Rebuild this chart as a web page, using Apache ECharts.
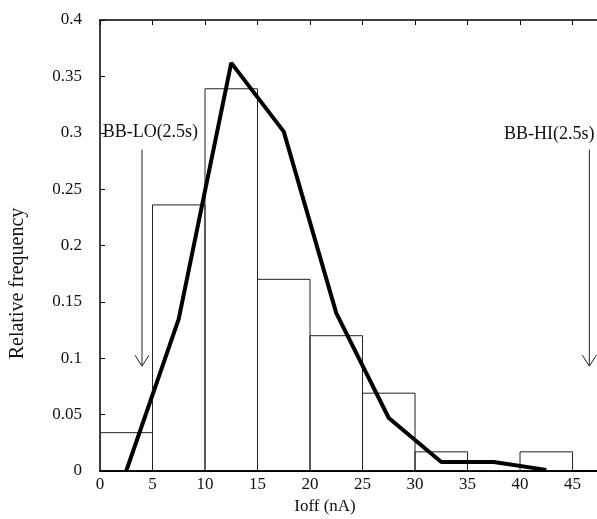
<!DOCTYPE html>
<html>
<head>
<meta charset="utf-8">
<script src="https://cdn.jsdelivr.net/npm/echarts@6/dist/echarts.min.js"></script>
<style>html,body{margin:0;padding:0;background:#fff;}#c{width:597px;height:519px;}</style>
</head>
<body>
<div id="c"></div>
<script>
// Histogram bins
var binStart = [0, 5, 10, 15, 20, 25, 30, 35, 40];
var binEnd   = [5, 10, 15, 20, 25, 30, 35, 40, 45];
var binFreq  = [0.034, 0.236, 0.339, 0.170, 0.120, 0.069, 0.017, 0, 0.017];
// Fitted curve (bin midpoints)
var curveX = [2.5, 7.5, 12.5, 17.5, 22.5, 27.5, 32.5, 37.5, 42.5];
var curveY = [0, 0.135, 0.362, 0.301, 0.140, 0.047, 0.008, 0.008, 0.001];
// Limit markers
var markerNames = ['BB-LO(2.5s)', 'BB-HI(2.5s)'];
var markerX     = [4.0, 46.6];
var markerTop   = [0.285, 0.285];
var markerTip   = [0.093, 0.093];
var markerLabelX = [0.25, 47.1];
var markerLabelY = [0.300, 0.299];
// Axis ticks
var yTicks = [0, 0.05, 0.1, 0.15, 0.2, 0.25, 0.3, 0.35, 0.4];

var FONT = 'Liberation Serif';
var chart = echarts.init(document.getElementById('c'));

var barData = binStart.map(function (s, i) { return [s, binEnd[i], binFreq[i]]; });
var lineData = curveX.map(function (x, i) { return [x, curveY[i]]; });
var markerData = markerNames.map(function (n, i) {
  return [markerX[i], markerTop[i], markerTip[i], markerLabelX[i], markerLabelY[i], n];
});

chart.setOption({
  animation: false,
  backgroundColor: '#fff',
  grid: { left: 100, right: 0, top: 20, bottom: 48, containLabel: false, outerBoundsMode: 'none' },
  xAxis: [{
    type: 'value', min: 0, max: 47.33, interval: 5,
    name: 'Ioff (nA)', nameLocation: 'middle', nameGap: 21,
    nameTextStyle: { fontFamily: FONT, fontSize: 17, color: '#111', padding: [0, 47, 0, 0] },
    axisLine: { show: true, lineStyle: { color: '#000', width: 2 } },
    axisTick: { show: false },
    axisLabel: {
      fontFamily: FONT, fontSize: 17, color: '#111', margin: 5, showMaxLabel: false,
      formatter: function (v) { return (Math.abs(v % 5) < 1e-6) ? String(v) : ''; }
    },
    splitLine: { show: false }
  }, {
    type: 'value', min: 0, max: 47.33, interval: 5, position: 'top',
    axisLine: { show: true, lineStyle: { color: '#000', width: 1.5 } },
    axisTick: { show: true, inside: true, length: 5, lineStyle: { color: '#000' } },
    axisLabel: { show: false },
    splitLine: { show: false }
  }],
  yAxis: {
    type: 'value', min: yTicks[0], max: yTicks[yTicks.length - 1], interval: 0.05,
    name: 'Relative frequency', nameLocation: 'middle', nameGap: 72,
    nameTextStyle: { fontFamily: FONT, fontSize: 20, color: '#111', padding: [0, 76, 0, 0] },
    axisLine: { show: true, lineStyle: { color: '#000', width: 1.5 } },
    axisTick: { show: true, inside: true, length: 5, lineStyle: { color: '#000' } },
    axisLabel: { fontFamily: FONT, fontSize: 17, color: '#111', margin: 18 },
    splitLine: { show: false }
  },
  series: [{
    type: 'custom',
    data: barData,
    clip: true,
    renderItem: function (params, api) {
      var p0 = api.coord([api.value(0), api.value(2)]);
      var p1 = api.coord([api.value(1), 0]);
      return {
        type: 'rect',
        shape: { x: p0[0], y: p0[1], width: p1[0] - p0[0], height: p1[1] - p0[1] },
        style: { fill: 'none', stroke: '#222', lineWidth: 1 }
      };
    },
    z: 2
  }, {
    type: 'line',
    data: lineData,
    symbol: 'none',
    lineStyle: { color: '#000', width: 4 },
    z: 5
  }, {
    type: 'custom',
    data: markerData,
    renderItem: function (params, api) {
      var top = api.coord([api.value(0), api.value(1)]);
      var tip = api.coord([api.value(0), api.value(2)]);
      var lab = api.coord([api.value(3), api.value(4)]);
      var idx = params.dataIndex;
      return {
        type: 'group',
        children: [{
          type: 'line',
          shape: { x1: top[0], y1: top[1], x2: tip[0], y2: tip[1] },
          style: { stroke: '#222', lineWidth: 1 }
        }, {
          type: 'polyline',
          shape: { points: [[tip[0] - 7, tip[1] - 11], [tip[0], tip[1]], [tip[0] + 7, tip[1] - 11]] },
          style: { stroke: '#222', lineWidth: 1, fill: 'none' }
        }, {
          type: 'text',
          x: lab[0], y: lab[1],
          style: {
            text: markerNames[idx],
            fontFamily: FONT, fontSize: 18, fill: '#111',
            align: idx === 0 ? 'left' : 'right', verticalAlign: 'middle'
          }
        }]
      };
    },
    z: 6
  }]
});
</script>
</body>
</html>
